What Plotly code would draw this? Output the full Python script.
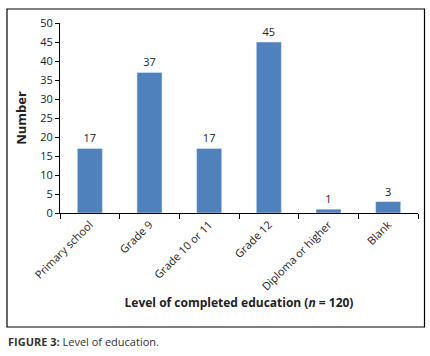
import plotly.graph_objects as go

categories = ["Primary school", "Grade 9", "Grade 10 or 11", "Grade 12", "Diploma or higher", "Blank"]
values = [17, 37, 17, 45, 1, 3]
y_ticks = [0, 5, 10, 15, 20, 25, 30, 35, 40, 45, 50]

W, H = 430, 356
L, R, T, B = 60, 12, 23, 143
pw, ph = W - L - R, H - T - B

def px(x):
    return (x - L) / pw

def py(y):
    return (H - B - y) / ph

font = "Open Sans, Liberation Sans, sans-serif"
txt = "#222222"

fig = go.Figure(go.Bar(
    x=categories, y=values, marker_color="#4F81BD",
    text=[str(v) for v in values], textposition="outside",
    textfont=dict(size=11, color=txt, family=font), cliponaxis=False,
))

fig.update_layout(
    width=W, height=H, margin=dict(l=L, r=R, t=T, b=B),
    paper_bgcolor="white", plot_bgcolor="white",
    bargap=0.58, showlegend=False,
    font=dict(family=font, color=txt, size=11),
    xaxis=dict(
        showline=True, linecolor="black", linewidth=1,
        ticks="outside", ticklen=5, tickcolor="black", tickson="boundaries",
        tickangle=-45, tickfont=dict(size=11, color=txt),
        showgrid=False,
        title=dict(text="<b>Level of completed education (<i>n</i> = 120)</b>",
                   font=dict(size=12, color=txt), standoff=6),
    ),
    yaxis=dict(
        range=[0, 50], tickvals=y_ticks, showline=True, linecolor="black", linewidth=1,
        ticks="outside", ticklen=4, tickcolor="black", showgrid=False, zeroline=False,
        tickfont=dict(size=11, color=txt),
        title=dict(text="<b>Number</b>", font=dict(size=13, color=txt), standoff=10),
    ),
)

fig.add_shape(type="rect", xref="paper", yref="paper",
              x0=px(7), x1=px(424.5), y0=py(327), y1=py(9),
              line=dict(color="black", width=1.2), fillcolor="rgba(0,0,0,0)")

fig.add_annotation(xref="paper", yref="paper", x=px(6), y=py(341), xanchor="left", yanchor="middle",
                   text="<b>FIGURE 3:</b> Level of education.", showarrow=False,
                   font=dict(size=11, color="#333333", family=font))

fig.write_html("out.html", config={"displayModeBar": False},
               post_script="document.body.style.margin='0';")
